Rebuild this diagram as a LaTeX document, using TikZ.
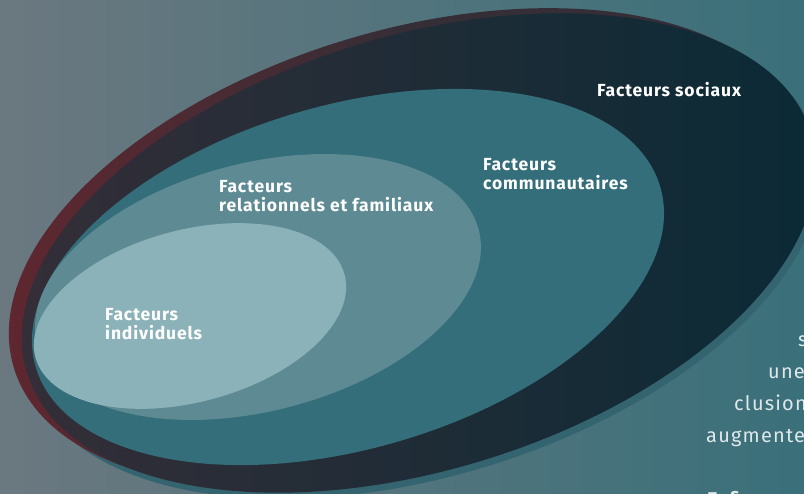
\documentclass[tikz,border=0pt]{standalone}
\usepackage{fontspec}
\setmainfont{Fira Sans}
\definecolor{bgL}{RGB}{107,120,128}
\definecolor{bgR}{RGB}{58,112,122}
\definecolor{darkL}{RGB}{53,46,55}
\definecolor{darkR}{RGB}{9,42,54}
\definecolor{redL}{RGB}{100,38,46}
\definecolor{shadowC}{RGB}{52,100,112}
\definecolor{commC}{RGB}{51,110,122}
\definecolor{relC}{RGB}{94,138,147}
\definecolor{indC}{RGB}{140,178,185}
\definecolor{bodyC}{RGB}{222,232,234}
\pgfdeclarehorizontalshading{redfade}{100bp}{color(0bp)=(redL); color(24bp)=(redL); color(50bp)=(darkL); color(100bp)=(darkL)}
\begin{document}
\begin{tikzpicture}[x=1pt,y=-1pt,
  lbl/.style={inner sep=0pt, text=white, align=left, font=\bfseries\fontsize{17.5}{19}\selectfont\addfontfeatures{LetterSpace=5}},
  body/.style={inner sep=0pt, text=bodyC, font=\fontsize{20}{32}\selectfont\addfontfeatures{LetterSpace=6}}]
\useasboundingbox (0,0) rectangle (804,494);
\clip (0,0) rectangle (804,494);
\shade[left color=bgL, right color=bgR] (0,0) rectangle (804,494);
% shadow
\fill[shadowC, rotate around={17:(423,259)}] (423,259) ellipse [x radius=411, y radius=217];
% red rim
\shade[shading=redfade, rotate around={17:(407,248)}] (407,248) ellipse [x radius=411, y radius=217];
% outer dark
\shade[left color=darkL, right color=darkR, rotate around={17:(419,253)}] (419,253) ellipse [x radius=410, y radius=217];
% communautaires
\fill[commC, rotate around={16:(348,277)}] (348,277) ellipse [x radius=325, y radius=172];
% relationnels
\fill[relC, rotate around={14.5:(258,287)}] (258,287) ellipse [x radius=228, y radius=124];
% individuels
\fill[indC, rotate around={15:(190,316)}] (190,316) ellipse [x radius=160, y radius=86];
% labels
\node[lbl, anchor=north west] (soc) at (597,82) {Facteurs sociaux};
\node[lbl, anchor=north west] (com) at (483,158) {Facteurs\\communautaires};
\node[lbl, anchor=north west] (rel) at (219,180) {Facteurs\\relationnels et familiaux};
\node[lbl, anchor=north west] (ind) at (105,308) {Facteurs\\individuels};
% body text fragments
\node[body, anchor=base west] (t1) at (798,347) {s};
\node[body, anchor=base west] (t2) at (768,379) {une};
\node[body, anchor=base west] (t3) at (734,411) {clusion};
\node[body, anchor=base west] (t4) at (706,443) {augmente};
\node[body, anchor=base west, font=\bfseries\fontsize{20}{32}\selectfont] (t5) at (707,506) {Enfin};
\end{tikzpicture}
\end{document}
